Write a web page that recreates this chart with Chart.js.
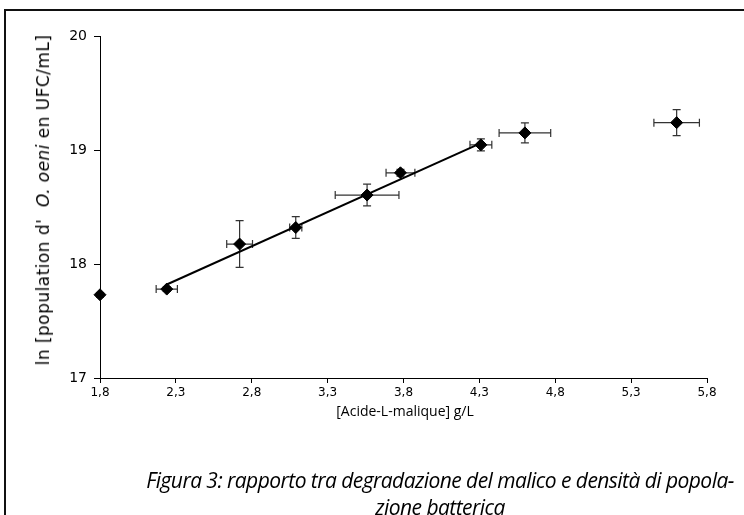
<!DOCTYPE html>
<html>
<head>
<meta charset="utf-8">
<script src="https://cdn.jsdelivr.net/npm/chart.js@4.4.1/dist/chart.umd.min.js"></script>
<style>
  html, body { margin: 0; padding: 0; background: #fff; }
  #wrap { position: relative; width: 744px; height: 515px; overflow: hidden; }
  #frame { position: absolute; left: 4px; top: 9px; width: 800px; height: 600px; border: 2px solid #111; }
  canvas { position: absolute; left: 0; top: 0; }
  #ytitle { position: absolute; left: 43px; top: 200px; transform: translate(-50%, -50%) rotate(-90deg);
            white-space: nowrap; font: 17px "DejaVu Sans", Verdana, sans-serif; letter-spacing: 0.45px; color: #000; }
  #xtitle { position: absolute; left: 405px; top: 410px; transform: translate(-50%, -50%);
            white-space: nowrap; font: 14px "Open Sans", sans-serif; color: #000; }
  #caption { position: absolute; left: 138px; width: 604px; top: 467px; text-align: center;
             font: italic 21px "Open Sans", sans-serif; line-height: 27px; color: #000; letter-spacing: -0.55px; }
</style>
</head>
<body>
<div id="wrap">
  <div id="frame"></div>
  <canvas id="malicChart" width="744" height="515"></canvas>
  <div id="ytitle">ln [population d'&nbsp; <i>O. oeni</i> en UFC/mL]</div>
  <div id="xtitle">[Acide-L-malique] g/L</div>
  <div id="caption">Figura 3: rapporto tra degradazione del malico e densità di popola-<br>zione batterica</div>
</div>
<script>
// data
const malic = [1.8, 2.24, 2.72, 3.09, 3.56, 3.78, 4.31, 4.6, 5.6];
const lnPop = [17.73, 17.78, 18.175, 18.32, 18.605, 18.80, 19.045, 19.15, 19.24];
const errX = [0, 0.07, 0.085, 0.04, 0.21, 0.095, 0.072, 0.17, 0.15];
const errY = [0.02, 0.02, 0.205, 0.095, 0.096, 0.03, 0.053, 0.088, 0.114];
const trendX = [2.24, 4.31];
const trendY = [17.82, 19.06];
const xTicks = [1.8, 2.3, 2.8, 3.3, 3.8, 4.3, 4.8, 5.3, 5.8];

const points = malic.map((x, i) => ({ x: x, y: lnPop[i] }));
const trend = trendX.map((x, i) => ({ x: x, y: trendY[i] }));

// error bars drawn through the chart scales
const errorBars = {
  id: 'errorBars',
  beforeDatasetsDraw(chart) {
    const ctx = chart.ctx;
    const xs = chart.scales.x, ys = chart.scales.y;
    ctx.save();
    ctx.strokeStyle = '#333';
    ctx.lineWidth = 1.2;
    points.forEach((p, i) => {
      const px = xs.getPixelForValue(p.x), py = ys.getPixelForValue(p.y);
      if (errX[i] > 0) {
        const x0 = xs.getPixelForValue(p.x - errX[i]), x1 = xs.getPixelForValue(p.x + errX[i]);
        ctx.beginPath();
        ctx.moveTo(x0, py); ctx.lineTo(x1, py);
        ctx.moveTo(x0, py - 4); ctx.lineTo(x0, py + 4);
        ctx.moveTo(x1, py - 4); ctx.lineTo(x1, py + 4);
        ctx.stroke();
      }
      if (errY[i] > 0) {
        const y0 = ys.getPixelForValue(p.y - errY[i]), y1 = ys.getPixelForValue(p.y + errY[i]);
        ctx.beginPath();
        ctx.moveTo(px, y0); ctx.lineTo(px, y1);
        ctx.moveTo(px - 4, y0); ctx.lineTo(px + 4, y0);
        ctx.moveTo(px - 4, y1); ctx.lineTo(px + 4, y1);
        ctx.stroke();
      }
    });
    ctx.restore();
  }
};

const ctx = document.getElementById('malicChart').getContext('2d');
new Chart(ctx, {
  type: 'scatter',
  data: {
    datasets: [{
      label: 'ln popolazione',
      data: points,
      pointStyle: 'rectRot',
      pointRadius: 6,
      backgroundColor: '#000',
      borderColor: '#000',
      borderWidth: 1,
      clip: false,
      order: 1
    }, {
      label: 'trend',
      type: 'line',
      data: trend,
      borderColor: '#000',
      borderWidth: 2,
      pointRadius: 0,
      fill: false,
      order: 2
    }]
  },
  options: {
    responsive: false,
    animation: false,
    layout: { padding: { top: 36, right: 37, left: 0, bottom: 0 } },
    plugins: { legend: { display: false }, tooltip: { enabled: false } },
    scales: {
      x: {
        type: 'linear',
        min: 1.8, max: 5.8,
        afterBuildTicks: s => { s.ticks = xTicks.map(v => ({ value: v })); },
        afterFit: s => { s.height = 137; },
        grid: { drawOnChartArea: false, drawTicks: true, tickLength: 5, color: '#000' },
        border: { display: true, color: '#000', width: 1 },
        ticks: {
          color: '#000', padding: 3, maxRotation: 0,
          font: { family: 'DejaVu Sans', size: 12 },
          callback: v => v.toFixed(1).replace('.', ',')
        }
      },
      y: {
        min: 17, max: 20,
        afterFit: s => { s.width = 100; },
        grid: { drawOnChartArea: false, drawTicks: true, tickLength: 6, color: '#000' },
        border: { display: true, color: '#000', width: 1 },
        ticks: {
          stepSize: 1, color: '#000', padding: 7,
          font: { family: 'DejaVu Sans', size: 14 }
        }
      }
    }
  },
  plugins: [errorBars]
});
</script>
</body>
</html>
